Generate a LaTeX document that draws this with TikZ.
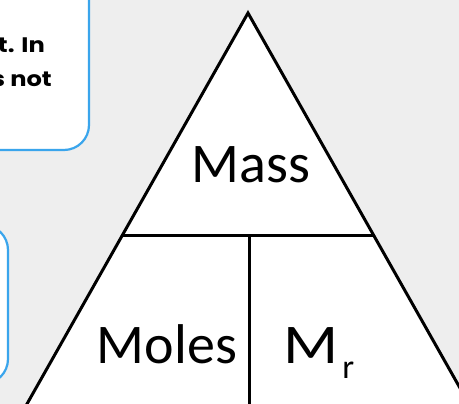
\documentclass[tikz,border=0pt]{standalone}
\usepackage{fontspec}
\setmainfont{Carlito}
\newfontfamily\boxfont{Poppins}
\definecolor{bg}{HTML}{EEEEEE}
\definecolor{boxblue}{HTML}{3AA5EC}
\tikzset{
  panel/.style={draw=boxblue, line width=2.2pt, fill=white, rounded corners=25pt},
  tri/.style={draw=black, line width=3pt, line join=miter},
  divider/.style={draw=black, line width=3pt},
  bigtext/.style={inner sep=0pt, font=\fontsize{56pt}{56pt}\selectfont},
  boxtext/.style={inner sep=0pt, font=\boxfont\bfseries\fontsize{21pt}{21pt}\selectfont}
}
\begin{document}
\begin{tikzpicture}[x=1pt,y=-1pt]
\useasboundingbox (0,0) rectangle (459,404);
\fill[bg] (0,0) rectangle (459,404);
\clip (0,0) rectangle (459,404);
% left panels
\path[panel] (-40,-40) rectangle (89,150);
\node[boxtext, anchor=base east] (l1) at (45,53) {\scalebox{1.15}[1]{t. In}};
\node[boxtext, anchor=base east] (l2) at (52,87) {\scalebox{1.15}[1]{s not}};
\path[panel] (-40,225) rectangle (8,384);
% triangle
\coordinate (apex) at (248,13);
\coordinate (bl) at (10,434);
\coordinate (br) at (486,434);
\filldraw[tri, fill=white] (apex) -- (bl) -- (br) -- cycle;
\coordinate (hl) at (122,236);
\coordinate (hr) at (374,236);
\coordinate (vt) at (249,236);
\coordinate (vb) at (249,434);
\draw[divider] (hl) -- (hr);
\draw[divider] (vt) -- (vb);
% labels
\node[bigtext, anchor=base] (mass) at (251,183) {Mass};
\node[bigtext, anchor=base] (moles) at (167,363) {Moles};
\node[bigtext, anchor=base west] (mr) at (283,363) {\scalebox{1.15}[1]{M}\kern4pt\raisebox{-15pt}{\fontsize{34pt}{34pt}\selectfont r}};
\end{tikzpicture}
\end{document}
